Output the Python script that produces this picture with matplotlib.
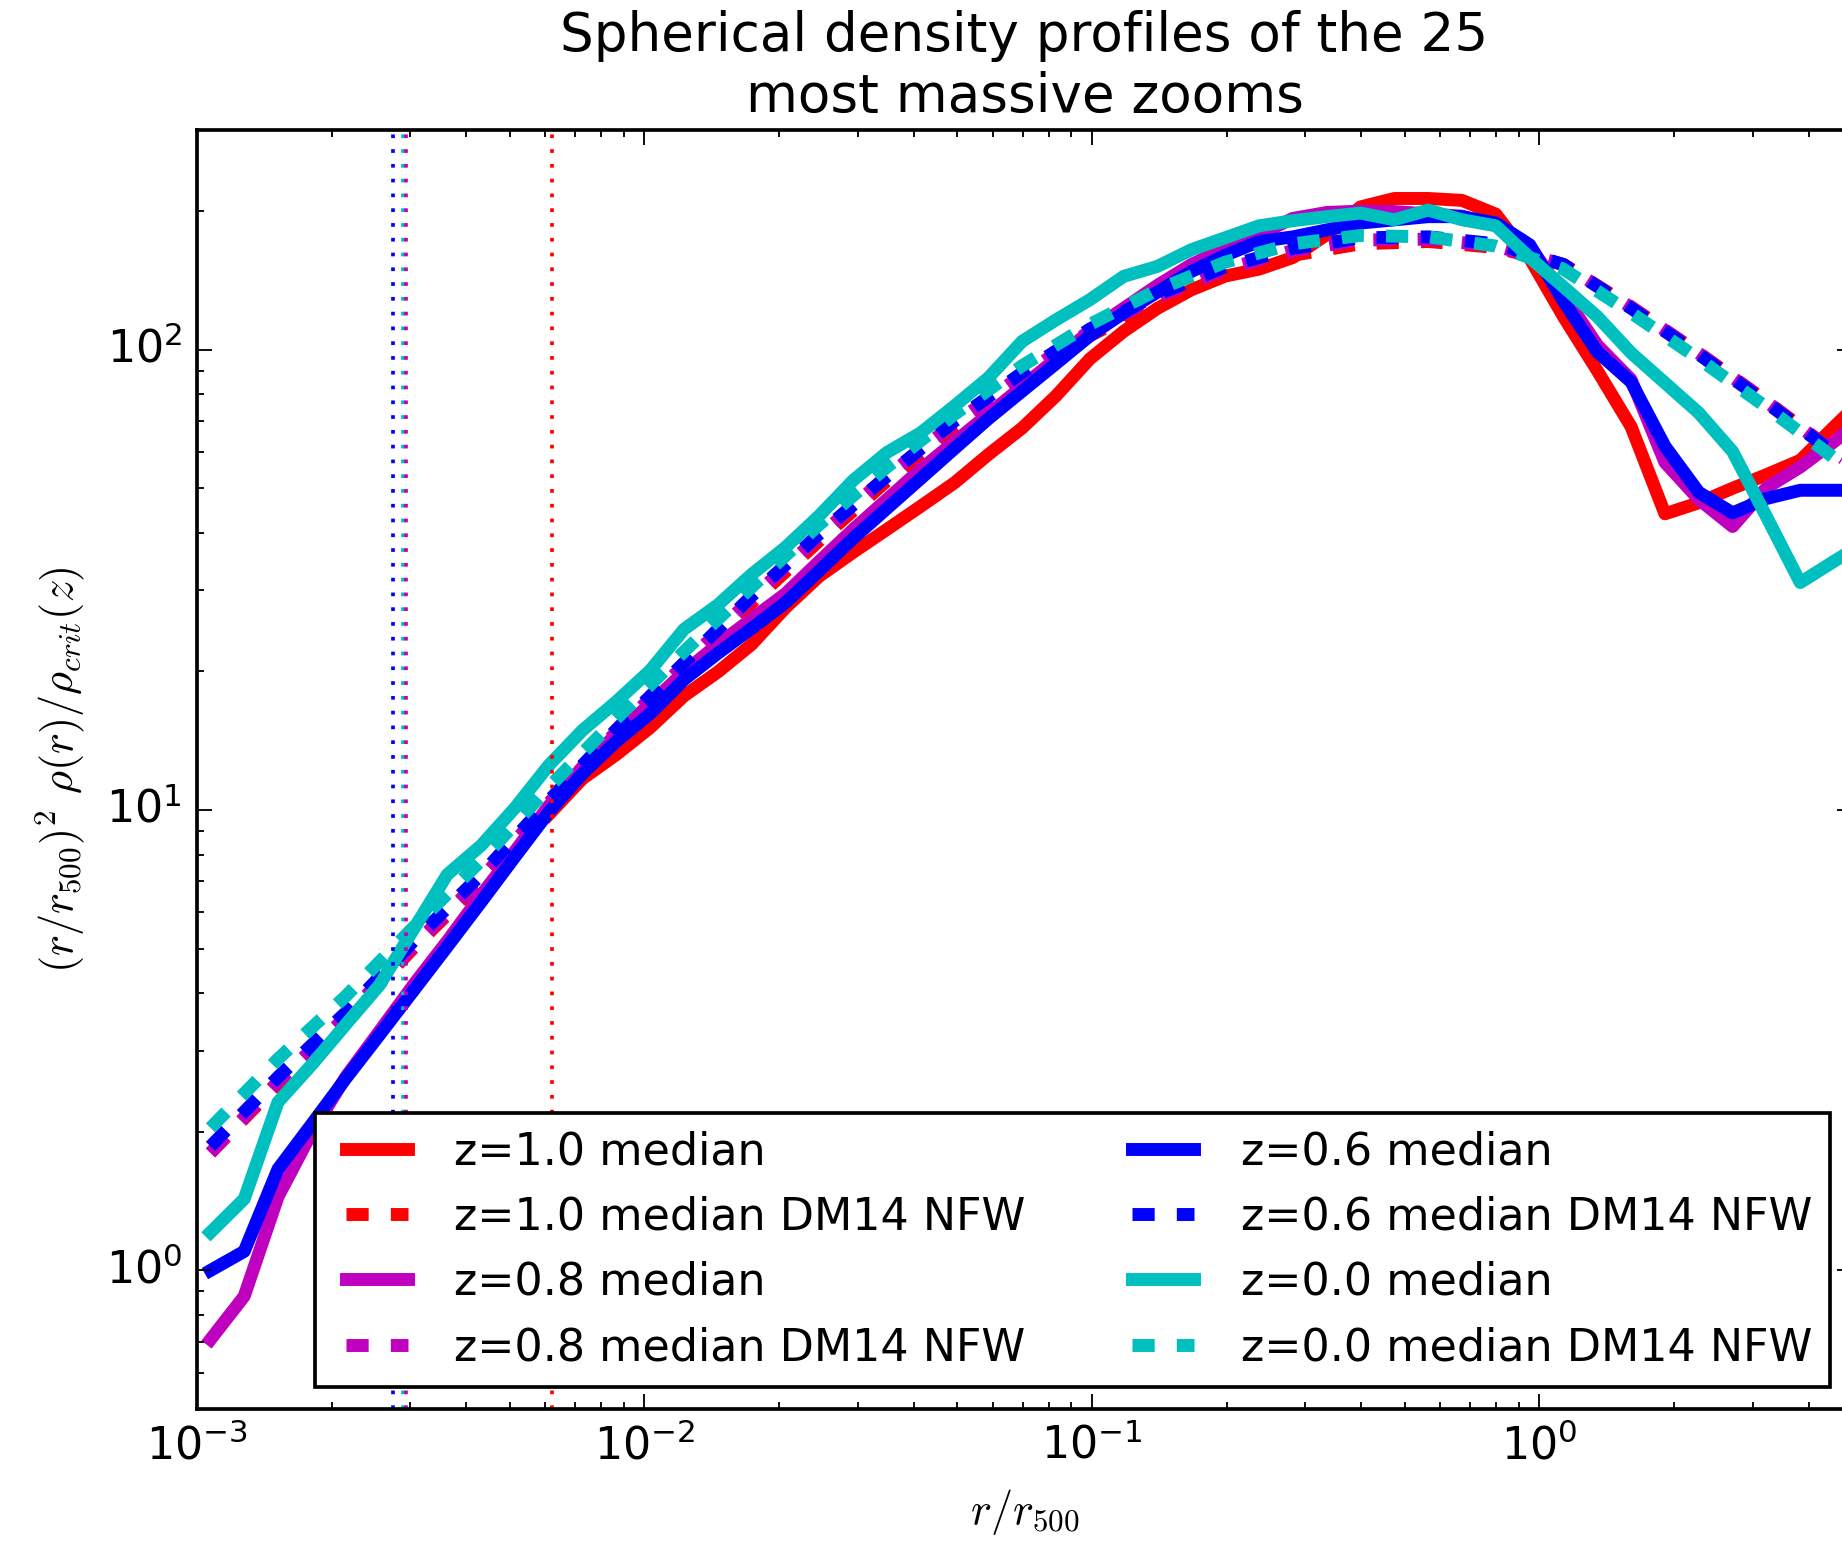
import numpy as np
import matplotlib
matplotlib.use('Agg')
import matplotlib.pyplot as plt

plt.style.use('classic')

# radial bins, r / r500
r = [1.072e-3, 1.275e-3, 1.517e-3, 1.806e-3, 2.149e-3, 2.559e-3, 3.045e-3, 3.624e-3,
     4.313e-3, 5.133e-3, 6.109e-3, 7.271e-3, 8.654e-3, 1.030e-2, 1.226e-2, 1.459e-2,
     1.736e-2, 2.066e-2, 2.459e-2, 2.927e-2, 3.483e-2, 4.146e-2, 4.934e-2, 5.872e-2,
     6.989e-2, 8.318e-2, 9.899e-2, 0.1178, 0.1402, 0.1669, 0.1986, 0.2364,
     0.2813, 0.3348, 0.3984, 0.4742, 0.5644, 0.6717, 0.7994, 0.9515,
     1.132, 1.348, 1.604, 1.909, 2.272, 2.704, 3.218, 3.830, 4.558, 5.425]

# NFW fits are smooth, read on every second bin
r_nfw = [1.072e-3, 1.517e-3, 2.149e-3, 3.045e-3, 4.313e-3, 6.109e-3, 8.654e-3, 1.226e-2,
         1.736e-2, 2.459e-2, 3.483e-2, 4.934e-2, 6.989e-2, 9.899e-2, 0.1402, 0.1986,
         0.2813, 0.3984, 0.5644, 0.7994, 1.132, 1.604, 2.272, 3.218, 4.558, 5.425]

nan = np.nan

# median profiles
med_z10 = [nan, nan, nan, nan, nan, nan, nan, nan, nan, nan,
           9.77, 11.7, 13.2, 15.1, 17.7, 19.95, 22.9, 27.5, 32.2, 36.3,
           40.7, 45.7, 51.4, 59.2, 67.6, 79.4, 95.5, 109.6, 123.0, 134.9,
           144.5, 149.6, 158.5, 177.8, 204.2, 213.0, 213.0, 211.0, 197.0, 158.0,
           118.0, 90.0, 68.0, 44.0, 46.5, 50.0, 53.5, 57.5, 68.0, 80.0]
med_z08 = [0.708, 0.879, 1.445, 1.995, 2.63, 3.31, 4.17, 5.19, 6.53, 8.13,
           10.2, 12.4, 14.6, 17.0, 19.95, 22.9, 26.0, 29.5, 34.7, 40.7,
           47.3, 55.0, 63.1, 72.4, 83.2, 95.5, 109.6, 123.0, 138.0, 153.1,
           166.0, 177.8, 192.8, 198.6, 200.0, 199.5, 197.2, 195.0, 186.2, 167.9,
           131.8, 102.3, 86.1, 56.9, 47.3, 41.3, 50.1, 55.6, 63.1, 72.4]
med_z06 = [1.00, 1.10, 1.66, 2.08, 2.61, 3.25, 4.05, 5.05, 6.31, 7.91,
           9.89, 12.0, 14.1, 16.2, 19.2, 21.9, 24.8, 28.2, 33.1, 38.9,
           45.2, 52.5, 61.0, 70.8, 81.3, 93.3, 107.2, 120.2, 133.4, 147.9,
           160.3, 171.8, 175.8, 182.0, 188.4, 191.4, 194.5, 194.5, 188.4, 169.0,
           127.4, 98.9, 85.1, 61.7, 49.0, 44.2, 47.5, 49.5, 49.5, 49.5]
med_z00 = [1.21, 1.43, 2.32, 2.80, 3.42, 4.17, 5.5, 7.24, 8.37, 10.1,
           12.5, 14.9, 17.2, 20.1, 24.7, 27.9, 32.5, 37.2, 43.6, 52.0,
           59.8, 66.0, 75.5, 86.9, 104.3, 116.1, 128.4, 144.3, 151.7, 164.9,
           175.0, 185.8, 190.6, 194.5, 198.0, 191.5, 201.0, 191.5, 185.8, 158.5,
           137.0, 118.0, 98.4, 84.7, 72.9, 60.1, 43.4, 31.2, 34.7, 38.5]

# DM14 NFW profiles
nfw_z10 = [1.80, 2.54, 3.51, 5.01, 7.00, 10.12, 14.45, 20.18, 28.18, 38.46,
           51.88, 67.61, 86.10, 107.2, 127.4, 146.2, 160.3, 169.8, 171.8, 166.7,
           153.1, 123.9, 98.4, 77.3, 60.0, 53.5]
nfw_z08 = [1.80, 2.57, 3.55, 5.07, 7.08, 10.35, 14.79, 20.65, 28.84, 39.36,
           53.09, 69.18, 88.10, 109.6, 130.3, 149.6, 164.1, 173.0, 173.8, 167.9,
           153.1, 123.6, 98.2, 77.1, 59.8, 53.3]
nfw_z06 = [1.86, 2.63, 3.63, 5.19, 7.24, 10.47, 14.96, 20.89, 29.17, 39.81,
           53.09, 69.98, 89.13, 110.9, 131.8, 151.4, 166.0, 175.0, 175.8, 169.8,
           153.1, 123.0, 97.7, 76.7, 59.6, 53.1]
nfw_z00 = [2.04, 2.88, 3.94, 5.56, 7.76, 11.2, 15.8, 22.1, 30.5, 41.7,
           55.6, 72.4, 92.3, 113.5, 134.9, 154.9, 169.8, 177.0, 175.8, 167.9,
           149.6, 120.2, 95.5, 75.0, 58.2, 51.9]

# resolution limits
res_z10 = 6.2e-3
res_z08 = 2.93e-3
res_z06 = 2.745e-3
res_z00 = 2.89e-3

series = [('1.0', 'r', med_z10, nfw_z10),
          ('0.8', 'm', med_z08, nfw_z08),
          ('0.6', 'b', med_z06, nfw_z06),
          ('0.0', 'c', med_z00, nfw_z00)]

fig = plt.figure(figsize=(1842 / 266., 1543 / 266.), dpi=266)
ax = fig.add_axes([0.10695, 0.08684, 0.8985, 0.8289])

for z, col, med, nfw in series:
    ax.plot(r, med, '-', color=col, lw=3.5, label='z=%s median' % z)
    ax.plot(r_nfw, nfw, '--', color=col, lw=3.5, label='z=%s median DM14 NFW' % z)

ax.axvline(res_z10, color='r', ls=':', lw=1)
ax.axvline(res_z06, color='b', ls=':', lw=1)
ax.axvline(res_z00, color='c', ls=':', lw=1)
ax.axvline(res_z08, color='m', ls=':', lw=1)

ax.set_xscale('log')
ax.set_yscale('log')
ax.set_xlim(1e-3, 5)
ax.set_ylim(0.5, 300)

ax.set_xlabel(r'$r/r_{500}$')
ax.set_ylabel(r'$(r/r_{500})^2\ \rho(r)/\rho_{crit}(z)$')
ax.set_title('Spherical density profiles of the 25\nmost massive zooms')

ax.legend(loc='lower right', ncol=2, fontsize=12, handlelength=2.0,
          handletextpad=0.75, columnspacing=2.1)

fig.savefig('out.png', dpi=266, facecolor='white')
